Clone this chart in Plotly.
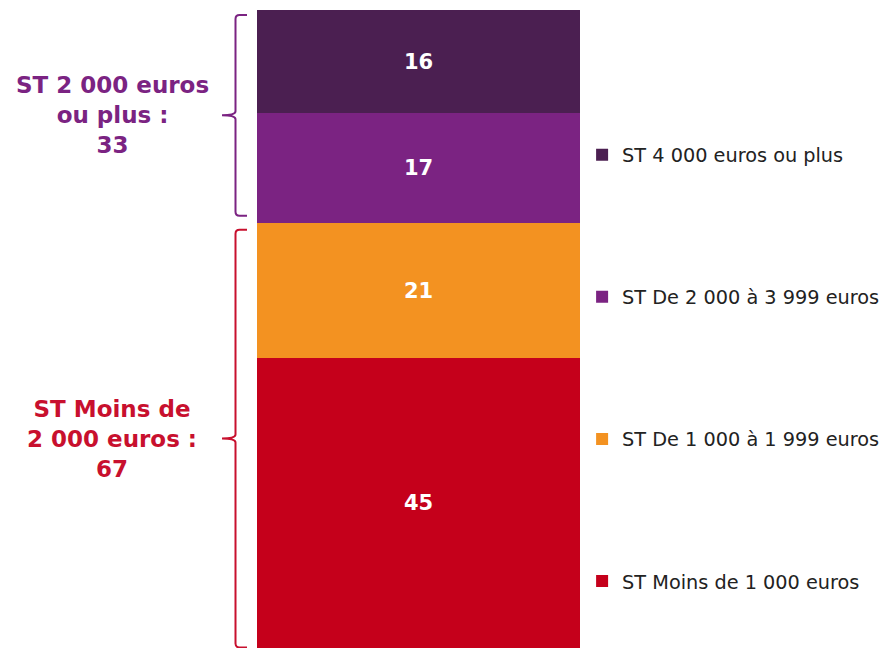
import plotly.graph_objects as go

# Data (bottom to top)
series_names = ["ST Moins de 1 000 euros", "ST De 1 000 à 1 999 euros",
                "ST De 2 000 à 3 999 euros", "ST 4 000 euros ou plus"]
series_values = [45, 21, 17, 16]
series_colors = ["#C5001B", "#F39221", "#7B2382", "#4B1F51"]
category = [""]

group_labels = ["ST Moins de<br>2 000 euros :<br>67", "ST 2 000 euros<br>ou plus :<br>33"]
group_members = [[0, 1], [2, 3]]
group_colors = ["#C8102E", "#7B2382"]

W, H = 886, 649
fig = go.Figure()
n = len(series_names)
for i, (name, val, col) in enumerate(zip(series_names, series_values, series_colors)):
    fig.add_trace(go.Bar(
        x=category, y=[val], name=name, marker=dict(color=col, line=dict(width=0)),
        width=1, text=[val], textposition="inside", insidetextanchor="middle",
        textfont=dict(color="white", size=21, family="DejaVu Sans", weight="bold"),
        legendgroup=name, legendrank=(n - i) * 10, hoverinfo="skip",
    ))

total = sum(series_values)
ppu = (H - 11) / total  # pixels per unit (approx, for decoration insets)

shapes = []
annotations = []
cum = [0]
for v in series_values:
    cum.append(cum[-1] + v)
for gi, (members, lab, col) in enumerate(zip(group_members, group_labels, group_colors)):
    lo = cum[members[0]]
    hi = cum[members[-1] + 1]
    top = hi - (5 if hi == total else 7) / ppu
    bot = lo + (0.5 if lo == 0 else 7) / ppu
    mid = (top + bot) / 2
    xl = 235.5 / W
    xr = 247 / W
    xt = 222 / W
    dx = 4 / W
    dy = 4 / ppu
    path = (f"M {xr},{top} L {xl+dx},{top} Q {xl},{top} {xl},{top-dy} "
            f"L {xl},{mid+dy} Q {xl},{mid} {xt},{mid} "
            f"M {xt},{mid} Q {xl},{mid} {xl},{mid-dy} "
            f"L {xl},{bot+dy} Q {xl},{bot} {xl+dx},{bot} L {xr},{bot}")
    shapes.append(dict(type="path", path=path, xref="paper", yref="y",
                       line=dict(color=col, width=2)))
    annotations.append(dict(x=112 / W, y=mid, xref="paper", yref="y", text=lab,
                            showarrow=False, xanchor="center", yanchor="middle",
                            align="center",
                            font=dict(color=col, size=23, family="DejaVu Sans", weight="bold")))

fig.update_layout(
    width=W, height=H,
    margin=dict(l=0, r=0, t=10, b=1),
    paper_bgcolor="white", plot_bgcolor="white",
    barmode="stack", bargap=0,
    xaxis=dict(domain=[257 / W, 580 / W], range=[-0.5, 0.5], visible=False, fixedrange=True),
    yaxis=dict(range=[0, total], visible=False, fixedrange=True),
    showlegend=True,
    legend=dict(x=0.657, y=0.803, xanchor="left", yanchor="top",
                traceorder="grouped", tracegroupgap=114,
                font=dict(size=19.3, family="DejaVu Sans", color="#222222"),
                itemwidth=30, bgcolor="rgba(0,0,0,0)", borderwidth=0),
    shapes=shapes, annotations=annotations,
    font=dict(family="DejaVu Sans"),
)
fig.write_html("out.html", config={"displayModeBar": False},
               post_script="document.body.style.margin='0';")
